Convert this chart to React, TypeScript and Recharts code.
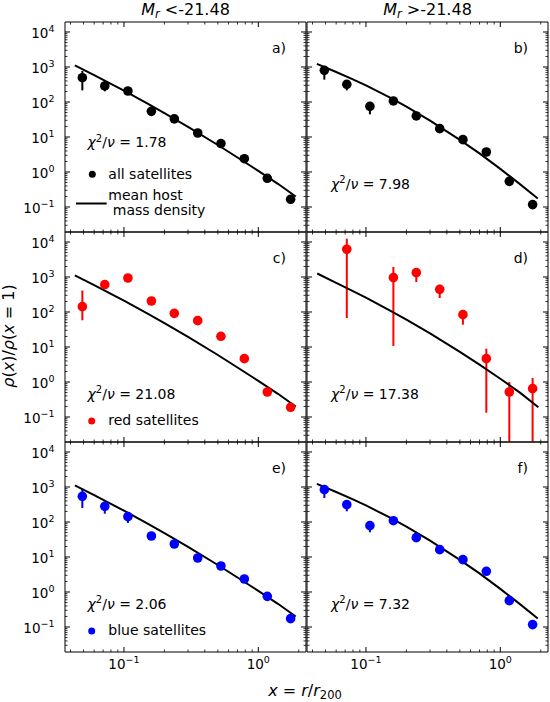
import React from 'react';
import { ScatterChart, Scatter, XAxis, YAxis, ErrorBar } from 'recharts';

// ---------- data ----------
const xBins = [0.049, 0.072, 0.107, 0.16, 0.237, 0.354, 0.527, 0.787, 1.167, 1.74];
const xBinsRedFaint = [0.072, 0.16, 0.237, 0.354, 0.527, 0.787, 1.167, 1.74];

// a) all satellites, Mr < -21.48
const allBrightY = [495, 287, 206, 54, 33, 13, 6.5, 2.4, 0.66, 0.166];
const allBrightLo = [215, 202, 180, 47, 29, 11.5, 5.7, 2.1, 0.57, 0.14];
const allBrightHi = [770, 400, 240, 61, 37, 14.5, 7.3, 2.7, 0.75, 0.19];
// b) all satellites, Mr > -21.48
const allFaintY = [803, 320, 75, 107, 40, 17.3, 8.4, 3.73, 0.54, 0.117];
const allFaintLo = [435, 215, 44.5, 95, 36, 15.5, 7.5, 3.3, 0.47, 0.1];
const allFaintHi = [1050, 400, 95, 120, 44, 19, 9.3, 4.2, 0.61, 0.135];
// c) red satellites, Mr < -21.48
const redBrightY = [142, 604, 936, 206, 91.6, 56.6, 20.2, 4.64, 0.518, 0.189];
const redBrightLo = [58, 480, 800, 180, 80, 50, 17.5, 4.0, 0.44, 0.16];
const redBrightHi = [410, 760, 1100, 235, 105, 64, 23, 5.4, 0.6, 0.22];
// d) red satellites, Mr > -21.48
const redFaintY = [6200, 960, 1330, 444, 84, 4.64, 0.518, 0.645];
const redFaintLo = [67, 10.7, 719, 251, 43.5, 0.133, 0.02, 0.02];
const redFaintHi = [12450, 1930, 1800, 600, 115, 8.96, 1.0, 1.3];
// e) blue satellites, Mr < -21.48
const blueBrightY = [541, 280, 142, 39.8, 23.5, 9.36, 5.53, 2.35, 0.752, 0.173];
const blueBrightLo = [251, 173, 94, 35, 20.5, 8.2, 4.8, 2.05, 0.65, 0.15];
const blueBrightHi = [900, 380, 180, 45, 27, 10.5, 6.3, 2.7, 0.86, 0.2];
// f) blue satellites, Mr > -21.48
const blueFaintY = [839, 313, 78.6, 109, 35.7, 16.2, 8.4, 3.9, 0.565, 0.117];
const blueFaintLo = [485, 202, 50.7, 95, 31, 14, 7.4, 3.4, 0.49, 0.1];
const blueFaintHi = [1100, 400, 100, 125, 41, 18.5, 9.5, 4.4, 0.64, 0.135];

// mean host mass density (as drawn in each panel)
const hostXLeft = [0.0431, 0.06, 0.08, 0.1, 0.15, 0.2, 0.3, 0.5, 0.7, 1.0, 1.4, 1.9];
const hostYLeft = [1110, 585, 330, 210, 90, 48, 19.5, 5.9, 2.6, 1.08, 0.46, 0.2];
const hostXRight = [0.0431, 0.06, 0.08, 0.1, 0.15, 0.2, 0.3, 0.5, 0.7, 1.0, 1.4, 1.9];
const hostYRight = [1230, 719, 444, 297, 135, 74, 29.5, 8.3, 3.4, 1.23, 0.45, 0.175];
const hostXRed = [0.0434, 0.06, 0.08, 0.1, 0.15, 0.2, 0.3, 0.5, 0.7, 1.0, 1.4, 1.92];
const hostYRed = [1260, 678, 395, 256, 112, 60.5, 24.4, 7.24, 3.12, 1.24, 0.498, 0.19];

const chiLabels = ['1.78', '7.98', '21.08', '17.38', '2.06', '7.32'];
const panelLabels = ['a)', 'b)', 'c)', 'd)', 'e)', 'f)'];
const columnTitles = ['<-21.48', '>-21.48'];

const X_TICKS = [0.04, 0.05, 0.06, 0.07, 0.08, 0.09, 0.1, 0.2, 0.3, 0.4, 0.5, 0.6, 0.7, 0.8, 0.9, 1, 2];
const Y_TICKS = [
  0.03, 0.04, 0.05, 0.06, 0.07, 0.08, 0.09,
  0.1, 0.2, 0.3, 0.4, 0.5, 0.6, 0.7, 0.8, 0.9,
  1, 2, 3, 4, 5, 6, 7, 8, 9,
  10, 20, 30, 40, 50, 60, 70, 80, 90,
  100, 200, 300, 400, 500, 600, 700, 800, 900,
  1000, 2000, 3000, 4000, 5000, 6000, 7000, 8000, 9000,
  10000,
];
const X_DOMAIN = [0.0364, 2.265];
const Y_DOMAIN = [0.0193, 19307];

// ---------- helpers ----------
const pts = (xs: number[], ys: number[], lo: number[], hi: number[]) =>
  xs.map((x, i) => ({ x, y: ys[i], err: [ys[i] - lo[i], hi[i] - ys[i]] }));
const curve = (xs: number[], ys: number[]) => xs.map((x, i) => ({ x, y: ys[i] }));

const FONT = 'DejaVu Sans';
const PW = 241;
const PH = 210;
const COL_LEFT = [65, 307];
const ROW_TOP = [22, 232, 442];

const isMajor = (v: number) => Math.abs(Math.log10(v) - Math.round(Math.log10(v))) < 1e-6;
const expText = (v: number) => {
  const e = Math.round(Math.log10(v));
  return e < 0 ? '\u2212' + String(-e) : String(e);
};

const TickLabel = ({ x, y, v, anchor }: any) => (
  <text x={x} y={y} textAnchor={anchor} fontFamily={FONT} fontSize={13.5} fill="#000">
    <tspan>10</tspan>
    <tspan dy={-5.5} fontSize={9.5}>{expText(v)}</tspan>
  </text>
);

const BottomTick = (props: any) => {
  const { x, y, payload, showLabel } = props;
  const v = payload.value;
  const major = isMajor(v);
  return (
    <g>
      <line x1={x} x2={x} y1={y} y2={y - (major ? 5 : 2.5)} stroke="#000" strokeWidth={major ? 1 : 0.8} />
      {showLabel && major ? <TickLabel x={x} y={y + 16.7} v={v} anchor="middle" /> : null}
    </g>
  );
};
const TopTick = (props: any) => {
  const { x, y, payload } = props;
  const major = isMajor(payload.value);
  return <line x1={x} x2={x} y1={y} y2={y + (major ? 5 : 2.5)} stroke="#000" strokeWidth={major ? 1 : 0.8} />;
};
const LeftTick = (props: any) => {
  const { x, y, payload, showLabel } = props;
  const v = payload.value;
  const major = isMajor(v);
  return (
    <g>
      <line x1={x} x2={x + (major ? 5 : 2.5)} y1={y} y2={y} stroke="#000" strokeWidth={major ? 1 : 0.8} />
      {showLabel && major ? <TickLabel x={x - 10.5} y={y + 6} v={v} anchor="end" /> : null}
    </g>
  );
};
const RightTick = (props: any) => {
  const { x, y, payload } = props;
  const major = isMajor(payload.value);
  return <line x1={x} x2={x - (major ? 5 : 2.5)} y1={y} y2={y} stroke="#000" strokeWidth={major ? 1 : 0.8} />;
};

type PanelProps = {
  left: number;
  top: number;
  data: any[];
  host: any[];
  color: string;
  yLabels: boolean;
  xLabels: boolean;
};

const AX = 1; // axis band size (non-zero so the axes render)

function Panel({ left, top, data, host, color, yLabels, xLabels }: PanelProps) {
  const ml = yLabels ? 60 : 4;
  const mb = xLabels ? 26 : 4;
  const mt = 4;
  const mr = 4;
  const W = PW + ml + mr;
  const H = PH + mt + mb;
  return (
    <div style={{ position: 'absolute', left: left - ml, top: top - mt, width: W, height: H }}>
      <ScatterChart
        width={W}
        height={H}
        margin={{ top: mt - AX, right: mr - AX, bottom: mb - AX, left: ml - AX }}
      >
        <XAxis
          xAxisId="b"
          type="number"
          dataKey="x"
          scale="log"
          domain={X_DOMAIN}
          allowDataOverflow
          ticks={X_TICKS}
          interval={0}
          height={AX}
          tickSize={0}
          tickMargin={0}
          tickLine={false}
          axisLine={{ stroke: '#000', strokeWidth: 1 }}
          tick={(p: any) => <BottomTick {...p} showLabel={xLabels} />}
        />
        <XAxis
          xAxisId="t"
          orientation="top"
          type="number"
          dataKey="x"
          scale="log"
          domain={X_DOMAIN}
          allowDataOverflow
          ticks={X_TICKS}
          interval={0}
          height={AX}
          tickSize={0}
          tickMargin={0}
          tickLine={false}
          axisLine={{ stroke: '#000', strokeWidth: 1 }}
          tick={(p: any) => <TopTick {...p} />}
        />
        <YAxis
          yAxisId="l"
          type="number"
          dataKey="y"
          scale="log"
          domain={Y_DOMAIN}
          allowDataOverflow
          ticks={Y_TICKS}
          interval={0}
          width={AX}
          tickSize={0}
          tickMargin={0}
          tickLine={false}
          axisLine={{ stroke: '#000', strokeWidth: 1 }}
          tick={(p: any) => <LeftTick {...p} showLabel={yLabels} />}
        />
        <YAxis
          yAxisId="r"
          orientation="right"
          type="number"
          dataKey="y"
          scale="log"
          domain={Y_DOMAIN}
          allowDataOverflow
          ticks={Y_TICKS}
          interval={0}
          width={AX}
          tickSize={0}
          tickMargin={0}
          tickLine={false}
          axisLine={{ stroke: '#000', strokeWidth: 1 }}
          tick={(p: any) => <RightTick {...p} />}
        />
        <Scatter
          xAxisId="b"
          yAxisId="l"
          data={host}
          line={{ stroke: '#000', strokeWidth: 2 }}
          shape={() => <g />}
          isAnimationActive={false}
        />
        <Scatter
          xAxisId="b"
          yAxisId="l"
          data={data}
          fill={color}
          shape={(p: any) => <circle cx={p.cx} cy={p.cy} r={4.8} fill={color} />}
          isAnimationActive={false}
        >
          <ErrorBar dataKey="err" direction="y" width={0} stroke={color} strokeWidth={2} isAnimationActive={false} />
        </Scatter>
      </ScatterChart>
    </div>
  );
}

const Chi = ({ x, y, val }: any) => (
  <text x={x} y={y} fontFamily={FONT} fontSize={14} fill="#000">
    <tspan fontStyle="italic">χ</tspan>
    <tspan dy={-5.5} fontSize={10}>2</tspan>
    <tspan dy={5.5}>/</tspan>
    <tspan fontStyle="italic">ν</tspan>
    <tspan>{' = ' + val}</tspan>
  </text>
);

export default function App() {
  const hostL = curve(hostXLeft, hostYLeft);
  const hostR = curve(hostXRight, hostYRight);
  const hostD = curve(hostXRed, hostYRed);
  const panels = [
    { data: pts(xBins, allBrightY, allBrightLo, allBrightHi), color: '#000000', host: hostL },
    { data: pts(xBins, allFaintY, allFaintLo, allFaintHi), color: '#000000', host: hostR },
    { data: pts(xBins, redBrightY, redBrightLo, redBrightHi), color: '#ff0000', host: hostL },
    { data: pts(xBinsRedFaint, redFaintY, redFaintLo, redFaintHi), color: '#ff0000', host: hostD },
    { data: pts(xBins, blueBrightY, blueBrightLo, blueBrightHi), color: '#0000ff', host: hostL },
    { data: pts(xBins, blueFaintY, blueFaintLo, blueFaintHi), color: '#0000ff', host: hostR },
  ];

  return (
    <div style={{ position: 'absolute', left: 0, top: 0, width: 550, height: 702, background: '#fff' }}>
      <style>{`.recharts-surface{overflow:visible}`}</style>
      {panels.map((p, i) => {
        const col = i % 2;
        const row = Math.floor(i / 2);
        return (
          <Panel
            key={i}
            left={COL_LEFT[col]}
            top={ROW_TOP[row]}
            data={p.data}
            host={p.host}
            color={p.color}
            yLabels={col === 0}
            xLabels={row === 2}
          />
        );
      })}
      <svg
        width={550}
        height={702}
        style={{ position: 'absolute', left: 0, top: 0, pointerEvents: 'none', overflow: 'visible' }}
      >
        {columnTitles.map((t, c) => (
          <text key={t} x={COL_LEFT[c] + PW / 2} y={15} textAnchor="middle" fontFamily={FONT} fontSize={16} fill="#000">
            <tspan fontStyle="italic">M</tspan>
            <tspan fontStyle="italic" fontSize={11.5} dy={3}>r</tspan>
            <tspan dy={-3}>{' ' + t}</tspan>
          </text>
        ))}
        {panelLabels.map((l, i) => {
          const col = i % 2;
          const row = Math.floor(i / 2);
          return (
            <text key={l} x={COL_LEFT[col] + 221} y={ROW_TOP[row] + 31} textAnchor="end" fontFamily={FONT} fontSize={14} fill="#000">
              {l}
            </text>
          );
        })}
        {chiLabels.map((v, i) => {
          const col = i % 2;
          const row = Math.floor(i / 2);
          const dy = i === 0 ? 125 : 166.5;
          return <Chi key={i} x={COL_LEFT[col] + (col === 0 ? 22.5 : 24)} y={ROW_TOP[row] + dy} val={v} />;
        })}
        {/* legend a */}
        <circle cx={COL_LEFT[0] + 27.3} cy={ROW_TOP[0] + 152.3} r={3.5} fill="#000" />
        <text x={COL_LEFT[0] + 43.3} y={ROW_TOP[0] + 156.5} fontFamily={FONT} fontSize={14} fill="#000">all satellites</text>
        <line x1={COL_LEFT[0] + 11} x2={COL_LEFT[0] + 41.7} y1={ROW_TOP[0] + 181.5} y2={ROW_TOP[0] + 181.5} stroke="#000" strokeWidth={2} />
        <text x={COL_LEFT[0] + 43.3} y={ROW_TOP[0] + 178} fontFamily={FONT} fontSize={14} fill="#000">mean host</text>
        <text x={COL_LEFT[0] + 47.8} y={ROW_TOP[0] + 193} fontFamily={FONT} fontSize={14} fill="#000">mass density</text>
        {/* legend c */}
        <circle cx={COL_LEFT[0] + 26.7} cy={ROW_TOP[1] + 189} r={3.5} fill="#ff0000" />
        <text x={COL_LEFT[0] + 43.3} y={ROW_TOP[1] + 193} fontFamily={FONT} fontSize={14} fill="#000">red satellites</text>
        {/* legend e */}
        <circle cx={COL_LEFT[0] + 26.7} cy={ROW_TOP[2] + 189} r={3.5} fill="#0000ff" />
        <text x={COL_LEFT[0] + 43.3} y={ROW_TOP[2] + 193} fontFamily={FONT} fontSize={14} fill="#000">blue satellites</text>
        {/* y label */}
        <text
          x={14}
          y={336}
          transform="rotate(-90 14 336)"
          textAnchor="middle"
          fontFamily={FONT}
          fontSize={16}
          fill="#000"
        >
          <tspan fontStyle="italic">ρ</tspan>
          <tspan>(</tspan>
          <tspan fontStyle="italic">x</tspan>
          <tspan>)/</tspan>
          <tspan fontStyle="italic">ρ</tspan>
          <tspan>(</tspan>
          <tspan fontStyle="italic">x</tspan>
          <tspan>{' = 1)'}</tspan>
        </text>
        {/* x label */}
        <text x={305} y={696} textAnchor="middle" fontFamily={FONT} fontSize={16} fill="#000">
          <tspan fontStyle="italic">x</tspan>
          <tspan>{' = '}</tspan>
          <tspan fontStyle="italic">r</tspan>
          <tspan>/</tspan>
          <tspan fontStyle="italic">r</tspan>
          <tspan dy={2.5} fontSize={11.5}>200</tspan>
        </text>
      </svg>
    </div>
  );
}
